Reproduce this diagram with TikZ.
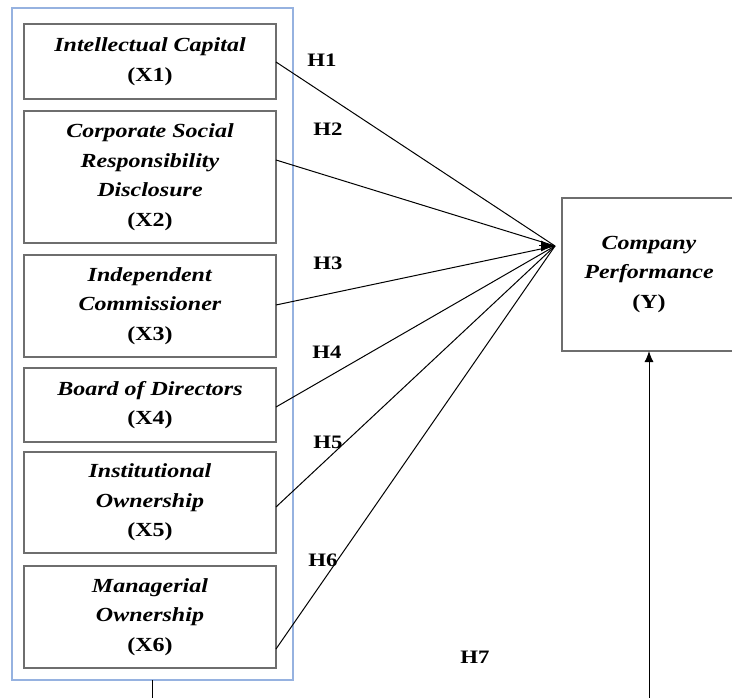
\documentclass[tikz,border=0pt]{standalone}
\usepackage{fontspec}
\setmainfont[FakeStretch=1.2]{Liberation Serif}
\usepackage{tikz}
\usetikzlibrary{arrows.meta}

\definecolor{boxgray}{RGB}{110,110,110}
\definecolor{groupblue}{RGB}{150,178,224}

\begin{document}
\begin{tikzpicture}[x=1pt, y=-1pt,
  every node/.style={outer sep=0pt, inner sep=0pt, align=center, font=\fontsize{20}{29.5}\selectfont},
  varbox/.style={draw=boxgray, line width=1.3pt, minimum width=252pt},
  hlabel/.style={font=\fontsize{19}{20}\selectfont\bfseries},
  link/.style={line width=1pt},
  tipped/.style={link, -{Latex[length=14pt, width=11pt]}}]
\useasboundingbox (0,0) rectangle (732,698);
\clip (0,0) rectangle (732,698);

\node[draw=groupblue, line width=1.5pt, minimum width=281pt, minimum height=672pt] (group) at (152.5,344) {};

\node[varbox, minimum height=75pt] (x1) at (150,61.5) {\textbf{\textit{Intellectual Capital}}\\\textbf{(X1)}};
\node[varbox, minimum height=132pt] (x2) at (150,177) {\textbf{\textit{Corporate Social}}\\\textbf{\textit{Responsibility}}\\\textbf{\textit{Disclosure}}\\\textbf{(X2)}};
\node[varbox, minimum height=102pt] (x3) at (150,306) {\textbf{\textit{Independent}}\\\textbf{\textit{Commissioner}}\\\textbf{(X3)}};
\node[varbox, minimum height=74pt] (x4) at (150,405) {\textbf{\textit{Board of Directors}}\\\textbf{(X4)}};
\node[varbox, minimum height=101pt] (x5) at (150,502.5) {\textbf{\textit{Institutional}}\\\textbf{\textit{Ownership}}\\\textbf{(X5)}};
\node[varbox, minimum height=102pt] (x6) at (150,617) {\textbf{\textit{Managerial}}\\\textbf{\textit{Ownership}}\\\textbf{(X6)}};

\node[draw=boxgray, line width=1.3pt, minimum width=174pt, minimum height=153pt] (perf) at (649,274.5) {\textbf{\textit{Company}}\\\textbf{\textit{Performance}}\\\textbf{(Y)}};

\coordinate (tip) at (555,246);
\coordinate (tiptail) at (539,246);

\node[hlabel] (h1) at (322,60) {H1};
\node[hlabel] (h2) at (328,129) {H2};
\node[hlabel] (h3) at (328,263) {H3};
\node[hlabel] (h4) at (327,352) {H4};
\node[hlabel] (h5) at (328,442) {H5};
\node[hlabel] (h6) at (323,560) {H6};
\node[hlabel] (h7) at (475,657) {H7};

\draw[link] (x1.east |- 0,62) -- (tip);
\draw[link] (x2.east |- 0,160) -- (tip);
\draw[link] (x3.east |- 0,305) -- (tip);
\draw[link] (x4.east |- 0,407) -- (tip);
\draw[link] (x5.east |- 0,507) -- (tip);
\draw[link] (x6.east |- 0,649) -- (tip);
\draw[tipped] (tiptail) -- (tip);

\draw[link, -{Latex[length=11pt, width=9pt]}] (group.south) -- ++(0,40) -| (perf.south);
\end{tikzpicture}
\end{document}
